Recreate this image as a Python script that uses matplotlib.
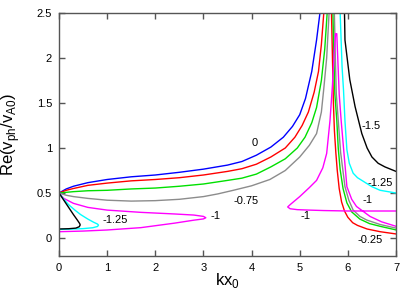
import matplotlib
matplotlib.use("Agg")
import matplotlib.pyplot as plt

plt.rcParams['font.family'] = ['Liberation Sans', 'DejaVu Sans']
plt.rcParams['mathtext.fontset'] = 'custom'
plt.rcParams['mathtext.rm'] = 'Liberation Sans'

# curve "0" (blue)
kx_0 = [0, 0.15, 0.3, 0.6, 1.0, 1.5, 2.0, 2.5, 3.0, 3.5, 3.8, 4.1, 4.4, 4.66, 4.85, 5.0, 5.12, 5.25, 5.35, 5.42]
re_0 = [0.5, 0.545, 0.575, 0.615, 0.65, 0.68, 0.70, 0.73, 0.765, 0.81, 0.85, 0.92, 1.01, 1.12, 1.24, 1.37, 1.55, 1.85, 2.2, 2.5]

# curve "-0.25" (red)
kx_025a = [0, 0.15, 0.3, 0.6, 1.0, 1.5, 2.0, 2.5, 3.0, 3.5, 3.8, 4.1, 4.4, 4.7, 4.9, 5.05, 5.18, 5.3, 5.39, 5.45, 5.5]
re_025a = [0.5, 0.53, 0.55, 0.585, 0.61, 0.635, 0.65, 0.67, 0.70, 0.74, 0.77, 0.82, 0.90, 1.0, 1.12, 1.25, 1.40, 1.62, 1.85, 2.15, 2.5]
kx_025b = [5.66, 5.68, 5.70, 5.72, 5.75, 5.78, 5.82, 5.87, 5.93, 6.0, 6.1, 6.2, 6.4, 6.67, 7.0]
re_025b = [2.5, 2.0, 1.5, 1.2, 0.95, 0.75, 0.55, 0.40, 0.30, 0.23, 0.17, 0.14, 0.10, 0.07, 0.045]

# curve "-0.5" (green)
kx_05a = [0, 0.3, 0.6, 1.0, 1.5, 2.0, 2.5, 3.0, 3.5, 3.8, 4.1, 4.4, 4.7, 4.95, 5.11, 5.25, 5.35, 5.45, 5.52, 5.57]
re_05a = [0.5, 0.515, 0.525, 0.53, 0.545, 0.555, 0.575, 0.60, 0.64, 0.665, 0.71, 0.79, 0.88, 1.0, 1.12, 1.28, 1.45, 1.75, 2.1, 2.5]
kx_05b = [5.69, 5.71, 5.73, 5.77, 5.80, 5.84, 5.90, 5.98, 6.08, 6.25, 6.45, 6.67, 7.0]
re_05b = [2.5, 2.0, 1.6, 1.31, 1.0, 0.76, 0.55, 0.39, 0.29, 0.21, 0.16, 0.13, 0.09]

# curve "-0.75" (grey)
kx_075a = [0, 0.15, 0.3, 0.6, 1.0, 1.5, 2.0, 2.5, 3.0, 3.3, 3.62, 4.0, 4.38, 4.7, 5.0, 5.2, 5.35, 5.45, 5.5, 5.56, 5.61]
re_075a = [0.5, 0.475, 0.46, 0.44, 0.42, 0.41, 0.415, 0.43, 0.46, 0.49, 0.53, 0.58, 0.65, 0.75, 0.90, 1.03, 1.16, 1.4, 1.66, 2.0, 2.5]
kx_075b = [5.72, 5.74, 5.76, 5.80, 5.85, 5.94, 6.02, 6.11, 6.25, 6.39, 6.67, 7.0]
re_075b = [2.5, 2.0, 1.6, 1.31, 0.95, 0.57, 0.42, 0.31, 0.24, 0.20, 0.15, 0.11]

# curve "-1" (magenta)
kx_1a = [0, 0.1, 0.3, 0.6, 1.0, 1.7, 2.4, 2.8, 3.0, 3.05, 3.0, 2.8, 2.4, 1.7, 1.0, 0.5, 0]
re_1a = [0.5, 0.44, 0.385, 0.34, 0.31, 0.285, 0.267, 0.255, 0.24, 0.225, 0.212, 0.198, 0.165, 0.115, 0.089, 0.077, 0.07]
kx_1b = [7.0, 6.0, 5.5, 5.2, 4.95, 4.8, 4.75, 4.8, 5.0, 5.2, 5.35, 5.48, 5.56, 5.63, 5.68, 5.72, 5.745, 5.77, 5.79, 5.82, 5.86, 5.91, 5.98, 6.08, 6.18, 6.46, 6.7, 7.0]
re_1b = [0.30, 0.30, 0.305, 0.31, 0.315, 0.325, 0.345, 0.37, 0.46, 0.56, 0.64, 0.78, 0.94, 1.31, 1.7, 2.1, 2.27, 2.27, 2.0, 1.6, 1.31, 1.0, 0.57, 0.43, 0.35, 0.24, 0.18, 0.13]

# curve "-1.25" (cyan)
kx_125a = [0, 0.1, 0.2, 0.33, 0.45, 0.6, 0.72, 0.8, 0.82, 0.8, 0.7, 0.5, 0.3, 0]
re_125a = [0.5, 0.43, 0.37, 0.31, 0.26, 0.21, 0.175, 0.155, 0.143, 0.128, 0.114, 0.104, 0.10, 0.095]
kx_125b = [5.84, 5.86, 5.88, 5.91, 5.94, 5.98, 6.03, 6.11, 6.2, 6.32, 6.5, 6.67, 7.0]
re_125b = [2.5, 2.2, 1.9, 1.64, 1.3, 0.98, 0.83, 0.72, 0.67, 0.63, 0.57, 0.53, 0.50]

# curve "-1.5" (black)
kx_15a = [0, 0.1, 0.2, 0.3, 0.38, 0.43, 0.44, 0.42, 0.35, 0.2, 0]
re_15a = [0.5, 0.42, 0.34, 0.26, 0.2, 0.16, 0.145, 0.125, 0.11, 0.103, 0.10]
kx_15b = [5.93, 5.94, 6.04, 6.15, 6.29, 6.40, 6.50, 6.63, 6.77, 7.0]
re_15b = [2.5, 2.2, 1.76, 1.46, 1.16, 1.0, 0.90, 0.83, 0.79, 0.74]

labels = ["0", "-0.75", "-1", "-1.25", "-1", "-1.5", "-1.25", "-1", "-0.25"]
label_x = [4.07, 3.88, 3.26, 1.16, 5.11, 6.49, 6.68, 6.41, 6.47]
label_y = [1.05, 0.41, 0.24, 0.20, 0.24, 1.24, 0.61, 0.42, -0.02]

fig = plt.figure(figsize=(4.16, 2.91), dpi=100)
ax = fig.add_axes([59/416, 1-256/291, (396-59)/416, (256-13)/291])

lw = 1.0
ax.plot(kx_0, re_0, color="#0000ff", lw=lw)
ax.plot(kx_025a, re_025a, color="#ff0000", lw=lw)
ax.plot(kx_025b, re_025b, color="#ff0000", lw=lw)
ax.plot(kx_05a, re_05a, color="#00e000", lw=lw)
ax.plot(kx_05b, re_05b, color="#00e000", lw=lw)
ax.plot(kx_075a, re_075a, color="#8c8c8c", lw=lw)
ax.plot(kx_075b, re_075b, color="#8c8c8c", lw=lw)
ax.plot(kx_1a, re_1a, color="#ff00ff", lw=lw)
ax.plot(kx_1b, re_1b, color="#ff00ff", lw=lw)
ax.plot(kx_125a, re_125a, color="#00ffff", lw=lw)
ax.plot(kx_125b, re_125b, color="#00ffff", lw=lw)
ax.plot(kx_15a, re_15a, color="black", lw=lw)
ax.plot(kx_15b, re_15b, color="black", lw=lw)

for s, x, y in zip(labels, label_x, label_y):
    ax.text(x, y, s, ha="center", va="center", fontsize=8)

ax.set_xlim(0, 7)
ax.set_ylim(-0.2, 2.5)
ax.set_xticks(range(0, 8))
ax.set_yticks([0, 0.5, 1, 1.5, 2, 2.5])
ax.set_yticklabels(["0", "0.5", "1", "1.5", "2", "2.5"])
ax.tick_params(direction="in", length=4, width=1, color="#555555",
               labelsize=8, pad=5, top=True, right=True)
for sp in ax.spines.values():
    sp.set_color("#555555")
    sp.set_linewidth(1)

ax.set_xlabel(r"kx$_\mathregular{0}$", fontsize=12)
ax.set_ylabel(r"Re(v$_\mathregular{ph}$/v$_\mathregular{A0}$)", fontsize=12)
ax.xaxis.set_label_coords(0.5, -0.06)
ax.yaxis.set_label_coords(-0.11, 0.5)

plt.savefig("out.png", dpi=100)
